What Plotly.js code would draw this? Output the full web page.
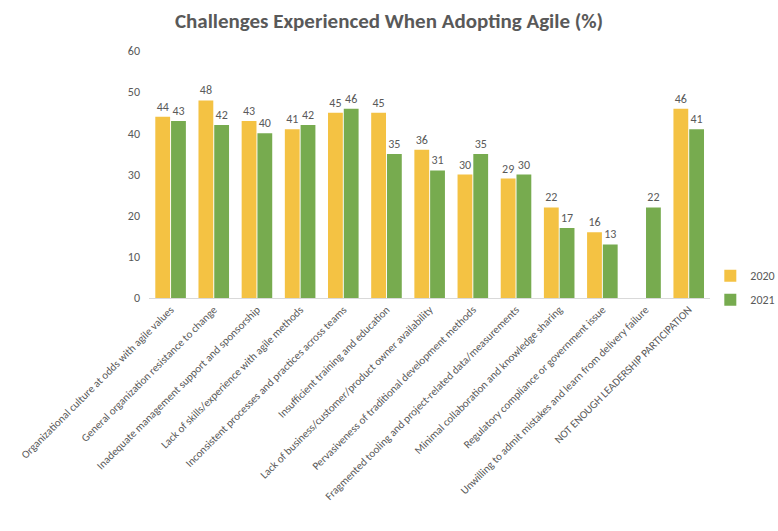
<!DOCTYPE html>
<html>
<head>
<meta charset="utf-8">
<script src="https://cdn.plot.ly/plotly-3.0.1.min.js"></script>
<style>html,body{margin:0;padding:0;background:#fff;}#chart{width:778px;height:531px;}</style>
</head>
<body>
<div id="chart"></div>
<script>
const categories = [
  "Organizational culture at odds with agile values",
  "General organization resistance to change",
  "Inadequate management support and sponsorship",
  "Lack of skills/experience with agile methods",
  "Inconsistent processes and practices across teams",
  "Insufficient training and education",
  "Lack of business/customer/product owner availability",
  "Pervasiveness of traditional development methods",
  "Fragmented tooling and project-related data/measurements",
  "Minimal collaboration and knowledge sharing",
  "Regulatory compliance or government issue",
  "Unwilling to admit mistakes and learn from delivery failure",
  "NOT ENOUGH LEADERSHIP PARTICIPATION"
];
const values2020 = [44, 48, 43, 41, 45, 45, 36, 30, 29, 22, 16, null, 46];
const values2021 = [43, 42, 40, 42, 46, 35, 31, 35, 30, 17, 13, 22, 41];
const seriesNames = ["2020", "2021"];

const fontFam = "Carlito, 'Liberation Sans', Arial, sans-serif";
const gray = "#595959";

const traces = [
  {type: "bar", name: seriesNames[0], legendgroup: "g2020", x: categories, y: values2020,
   marker: {color: "#F4C243"}, text: values2020.map(v => v == null ? "" : String(v)),
   textposition: "outside", cliponaxis: false,
   textfont: {family: fontFam, size: 12, color: gray}},
  {type: "bar", name: seriesNames[1], legendgroup: "g2021", x: categories, y: values2021,
   marker: {color: "#77AB4F"}, text: values2021.map(v => String(v)),
   textposition: "outside", cliponaxis: false,
   textfont: {family: fontFam, size: 12, color: gray}}
];

const layout = {
  width: 778, height: 531,
  margin: {l: 149, r: 60, t: 51, b: 233},
  paper_bgcolor: "#fff", plot_bgcolor: "#fff",
  title: {text: "<b>Challenges Experienced When Adopting Agile (%)</b>", x: 0.5, xref: "container", y: 0.975, yref: "container", yanchor: "top",
          font: {family: fontFam, size: 21, color: gray}},
  barmode: "group", bargap: 0.27, bargroupgap: 0.06,
  xaxis: {tickangle: -45, automargin: false, showgrid: false, showline: true, linecolor: "#d9d9d9", linewidth: 1,
          ticks: "", tickfont: {family: fontFam, size: 11, color: gray}},
  yaxis: {range: [0, 60], dtick: 10, showgrid: false, zeroline: false, showline: false, ticks: "",
          tickfont: {family: fontFam, size: 12, color: gray}, automargin: false, ticklabelstandoff: 8},
  legend: {xref: "container", yref: "container", x: 0.913, xanchor: "left", y: 0.508, yanchor: "top",
           font: {family: fontFam, size: 12, color: gray},
           itemwidth: 30, tracegroupgap: 5, traceorder: "grouped"},
  showlegend: true
};

Plotly.newPlot("chart", traces, layout, {displayModeBar: false, staticPlot: true});
</script>
</body>
</html>
